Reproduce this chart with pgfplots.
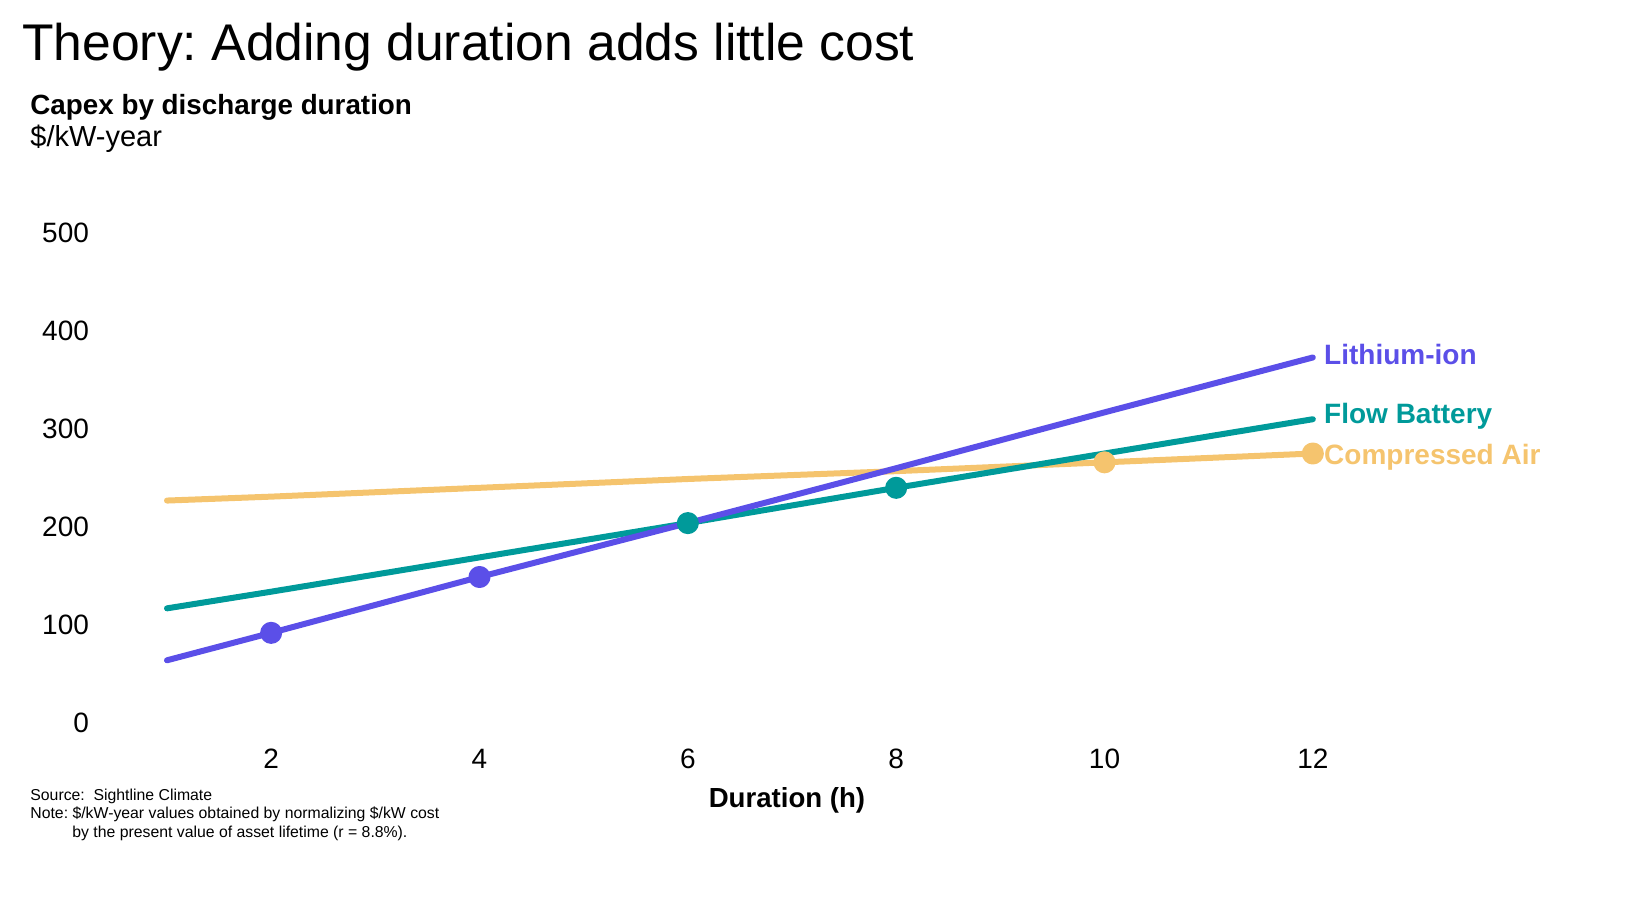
\documentclass[border=0pt]{standalone}
\usepackage{fontspec}
\setmainfont{Liberation Sans}
\usepackage{pgfplots}
\pgfplotsset{compat=1.18}

\definecolor{liion}{HTML}{5B4FE8}
\definecolor{flow}{HTML}{009A9A}
\definecolor{caes}{HTML}{F5C46E}

\begin{document}
\frenchspacing
\begin{tikzpicture}
  % page frame, 2 px per pt
  \path[use as bounding box] (0,0) rectangle (820pt,-448pt);

  \node[anchor=base west, inner sep=0pt, font=\fontsize{25.8}{30}\selectfont]
    at (11pt,-30pt) {Theory: Adding duration adds little cost};
  \node[anchor=base west, inner sep=0pt, font=\fontsize{13.9}{16}\selectfont\bfseries]
    at (15pt,-57pt) {Capex by discharge duration};
  \node[anchor=base west, inner sep=0pt, font=\fontsize{14.5}{16}\selectfont]
    at (15pt,-73pt) {\$/kW-year};

  \begin{axis}[
      at={(83.5pt,-361.5pt)}, anchor=south west,
      scale only axis,
      width=625pt, height=245pt,
      xmin=1, xmax=13, ymin=0, ymax=500,
      enlargelimits=false,
      clip=false,
      xtick={2,4,6,8,10,12},
      ytick={0,100,200,300,400,500},
      axis line style={draw=none},
      major tick style={draw=none},
      /pgf/number format/assume math mode=true,
      tick label style={font=\fontsize{14}{16}\selectfont},
      yticklabel style={anchor=east, xshift=-35.5pt},
      xticklabel style={anchor=center, yshift=-18pt},
      every axis plot/.append style={line width=3pt, line cap=round, line join=round},
      mark size=4pt,
    ]
    \addplot[caes, mark=*, mark indices={6,7}] coordinates
      {(1,227) (2,231) (4,240) (6,249) (8,257) (10,266) (12,275)};
    \addplot[flow, mark=*, mark indices={4,5}] coordinates
      {(1,117) (2,134) (4,169) (6,204) (8,240) (10,275) (12,310)};
    \addplot[liion, mark=*, mark indices={2,3}] coordinates
      {(1,64) (2,92) (4,149) (6,204) (8,260) (10,317) (12,373)};

    \node[anchor=west, text=liion, font=\fontsize{14}{16}\selectfont\bfseries, inner sep=0pt, xshift=5.5pt]
      at (axis cs:12,376) {Lithium-ion};
    \node[anchor=west, text=flow, font=\fontsize{14}{16}\selectfont\bfseries, inner sep=0pt, xshift=5.5pt]
      at (axis cs:12,313) {Flow Battery};
    \node[anchor=west, text=caes, font=\fontsize{14}{16}\selectfont\bfseries, inner sep=0pt, xshift=5.5pt]
      at (axis cs:12,271) {Compressed Air};
  \end{axis}

  \node[anchor=center, font=\fontsize{13.8}{16}\selectfont\bfseries]
    at (393.5pt,-400pt) {Duration (h)};

  \begin{scope}[every node/.style={anchor=base west, inner sep=0pt, font=\fontsize{7.9}{9}\selectfont}]
    \node at (15pt,-400pt) {Source:\ \ Sightline Climate};
    \node at (15pt,-409pt) {Note: \$/kW-year values obtained by normalizing \$/kW cost};
    \node at (36pt,-418.5pt) {by the present value of asset lifetime (r = 8.8\%).};
  \end{scope}
\end{tikzpicture}
\end{document}
